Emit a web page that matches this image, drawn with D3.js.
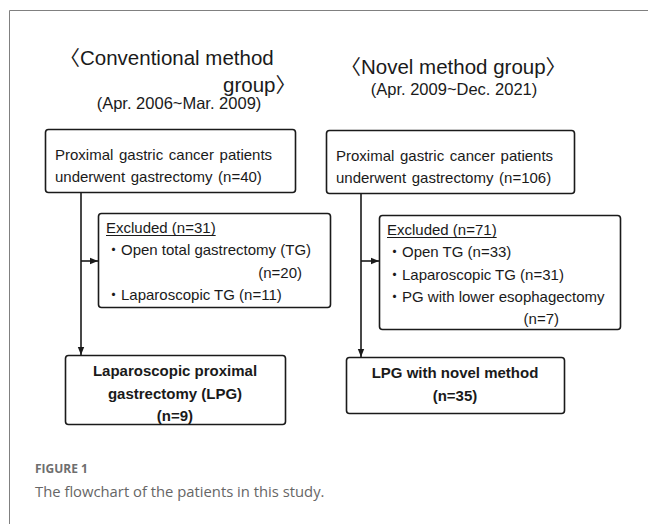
<!DOCTYPE html>
<html>
<head>
<meta charset="utf-8">
<script src="https://cdn.jsdelivr.net/npm/d3@7/dist/d3.min.js"></script>
<style>
  html, body { margin: 0; padding: 0; background: #fff; }
  svg { display: block; }
</style>
</head>
<body>
<div id="vis"></div>
<script>
// text content of the flowchart
const groupTitles = [
  ['〈Conventional method', 'group〉'],
  ['〈Novel method group〉']
]
const groupPeriods = ['(Apr. 2006~Mar. 2009)', '(Apr. 2009~Dec. 2021)']
const enrolled = [
  ['Proximal gastric cancer patients', 'underwent gastrectomy (n=40)'],
  ['Proximal gastric cancer patients', 'underwent gastrectomy (n=106)']
]
const excludedHead = ['Excluded (n=31)', 'Excluded (n=71)']
const excludedItems = [
  [['・Open total gastrectomy (TG)', '(n=20)'], ['・Laparoscopic TG (n=11)']],
  [['・Open TG (n=33)'], ['・Laparoscopic TG (n=31)'], ['・PG with lower esophagectomy', '(n=7)']]
]
const finalBox = [
  ['Laparoscopic proximal', 'gastrectomy (LPG)', '(n=9)'],
  ['LPG with novel method', '(n=35)']
]
const captionLabel = 'FIGURE 1'
const captionText = 'The flowchart of the patients in this study.'

const W = 648, H = 524
const font = '"Liberation Sans", Arial, "Noto Sans CJK JP", sans-serif'
const ink = '#1a1a1a'

const svg = d3.select('#vis').append('svg').attr('width', W).attr('height', H)

// frame (left and top only)
svg.append('path')
  .attr('d', 'M9.5,' + H + 'V10.5H' + W)
  .attr('fill', 'none').attr('stroke', '#808080').attr('stroke-width', 1)

svg.append('defs').append('marker')
  .attr('id', 'arr').attr('viewBox', '0 0 10 10')
  .attr('refX', 10).attr('refY', 5)
  .attr('markerWidth', 5).attr('markerHeight', 5)
  .attr('orient', 'auto')
  .append('path').attr('d', 'M0,1L10,5L0,9Z').attr('fill', ink)

// per-column layout
const cols = [
  {
    titleX: [59.5, 296], titleAnchor: ['start', 'end'], titleY: [65, 92], periodX: 179, periodY: 109,
    box1: [45, 129, 250, 63], trunkX: 81,
    box2: [98, 213, 232, 94], arrowY: 261,
    box3: [65, 355, 220, 69]
  },
  {
    titleX: [340.5], titleAnchor: ['start'], titleY: [74], periodX: 454, periodY: 95,
    box1: [326, 130, 248, 63], trunkX: 361,
    box2: [379, 215, 241, 114], arrowY: 261,
    box3: [346, 357, 218, 56]
  }
]

function box(g, b) {
  g.append('rect')
    .attr('x', b[0] + 0.5).attr('y', b[1] + 0.5)
    .attr('width', b[2]).attr('height', b[3])
    .attr('rx', 3)
    .attr('fill', '#fff').attr('stroke', ink).attr('stroke-width', 1.6)
}

cols.forEach((c, i) => {
  const g = svg.append('g').attr('font-family', font).attr('fill', ink)

  groupTitles[i].forEach((t, k) => {
    g.append('text').attr('x', c.titleX[k]).attr('y', c.titleY[k])
      .attr('text-anchor', c.titleAnchor[k])
      .attr('font-size', 20.5).text(t)
  })
  g.append('text').attr('x', c.periodX).attr('y', c.periodY)
    .attr('text-anchor', 'middle').attr('font-size', 16.5)
    .text(groupPeriods[i])

  // connectors
  const b1 = c.box1, b2 = c.box2, b3 = c.box3
  g.append('line')
    .attr('x1', c.trunkX).attr('x2', c.trunkX)
    .attr('y1', b1[1] + b1[3]).attr('y2', b3[1])
    .attr('stroke', ink).attr('stroke-width', 1.6)
    .attr('marker-end', 'url(#arr)')
  g.append('line')
    .attr('x1', c.trunkX).attr('x2', b2[0])
    .attr('y1', c.arrowY).attr('y2', c.arrowY)
    .attr('stroke', ink).attr('stroke-width', 1.6)
    .attr('marker-end', 'url(#arr)')

  // enrolled box
  box(g, b1)
  enrolled[i].forEach((t, k) => {
    g.append('text').attr('x', b1[0] + 10).attr('y', b1[1] + 31 + k * 21.5)
      .attr('font-size', 15).attr('word-spacing', 1.5).text(t)
  })

  // excluded box
  box(g, b2)
  const head = g.append('text').attr('x', b2[0] + 8).attr('y', b2[1] + 20)
    .attr('font-size', 15).text(excludedHead[i])
  const hw = head.node().getComputedTextLength()
  g.append('line')
    .attr('x1', b2[0] + 8).attr('x2', b2[0] + 8 + hw)
    .attr('y1', b2[1] + 22.5).attr('y2', b2[1] + 22.5)
    .attr('stroke', ink).attr('stroke-width', 1)
  let row = 1
  excludedItems[i].forEach((item) => {
    g.append('text').attr('x', b2[0] + 8).attr('y', b2[1] + 20 + row * 22.3)
      .attr('font-size', 15).text(item[0])
    row++
    if (item[1]) {
      g.append('text').attr('x', b2[0] + b2[2] - (i === 0 ? 28 : 61)).attr('y', b2[1] + 20 + row * 22.3)
        .attr('text-anchor', 'end').attr('font-size', 15).text(item[1])
      row++
    }
  })

  // final box
  box(g, b3)
  const cx = b3[0] + b3[2] / 2
  finalBox[i].forEach((t, k) => {
    g.append('text').attr('x', cx).attr('y', b3[1] + 21 + k * 22.5)
      .attr('text-anchor', 'middle').attr('font-size', 15)
      .attr('font-weight', 'bold').text(t)
  })
})

// caption
svg.append('text').attr('x', 35).attr('y', 473)
  .attr('font-family', '"Open Sans", "Noto Sans", sans-serif')
  .attr('font-size', 12).attr('font-weight', 'bold').attr('fill', '#6e6e6e')
  .text(captionLabel)
svg.append('text').attr('x', 35).attr('y', 497)
  .attr('font-family', '"Open Sans", "Noto Sans", sans-serif')
  .attr('font-size', 14.8).attr('fill', '#666')
  .text(captionText)
</script>
</body>
</html>
